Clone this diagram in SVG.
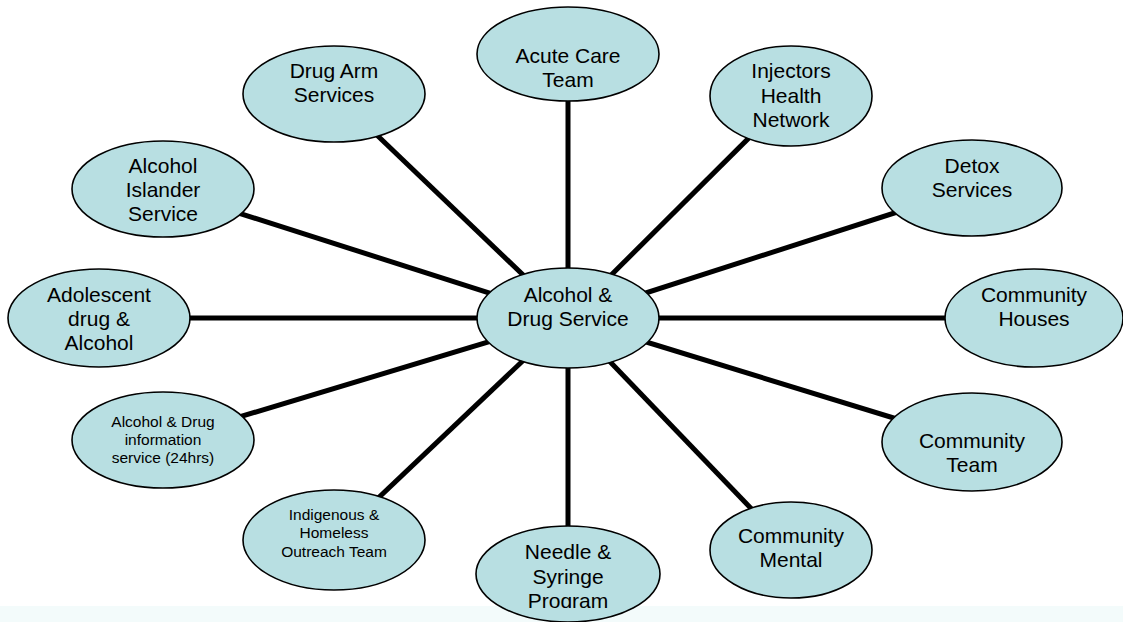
<svg xmlns="http://www.w3.org/2000/svg" width="1123" height="622" viewBox="0 0 1123 622">
<style>
.n{fill:#b8dfe2;stroke:#000;stroke-width:1.6}
.t{font-family:"Liberation Sans",Arial,sans-serif;font-size:21px;fill:#000;text-anchor:middle}
.s{font-family:"Liberation Sans",Arial,sans-serif;font-size:15.5px;fill:#000;text-anchor:middle}
.c{stroke:#000;stroke-width:5;fill:none}
</style>
<defs><clipPath id="clipN"><rect x="0" y="0" width="1123" height="608"/></clipPath></defs>
<rect x="0" y="0" width="1123" height="622" fill="#fff"/>
<rect x="0" y="606" width="1123" height="16" fill="#f3fbfb"/>
<g id="connectors">
<line class="c" x1="568" y1="318" x2="568" y2="54"/>
<line class="c" x1="568" y1="318" x2="791" y2="96"/>
<line class="c" x1="568" y1="318" x2="972" y2="188"/>
<line class="c" x1="568" y1="318" x2="1034" y2="318"/>
<line class="c" x1="568" y1="318" x2="972" y2="442"/>
<line class="c" x1="568" y1="318" x2="791" y2="550"/>
<line class="c" x1="568" y1="318" x2="568" y2="574"/>
<line class="c" x1="568" y1="318" x2="334" y2="540"/>
<line class="c" x1="568" y1="318" x2="163" y2="440"/>
<line class="c" x1="568" y1="318" x2="99" y2="318"/>
<line class="c" x1="568" y1="318" x2="163" y2="189"/>
<line class="c" x1="568" y1="318" x2="334" y2="94"/>
</g>
<g id="acute"><ellipse class="n" cx="568" cy="54" rx="91" ry="47"/><text class="t" x="568" y="63">Acute Care</text><text class="t" x="568" y="87">Team</text></g>
<g id="injectors"><ellipse class="n" cx="791" cy="96" rx="81" ry="50"/><text class="t" x="791" y="78">Injectors</text><text class="t" x="791" y="103">Health</text><text class="t" x="791" y="127">Network</text></g>
<g id="detox"><ellipse class="n" cx="972" cy="188" rx="90" ry="48"/><text class="t" x="972" y="173">Detox</text><text class="t" x="972" y="197">Services</text></g>
<g id="houses"><ellipse class="n" cx="1034" cy="318" rx="89" ry="49"/><text class="t" x="1034" y="302">Community</text><text class="t" x="1034" y="326">Houses</text></g>
<g id="team"><ellipse class="n" cx="972" cy="442" rx="90" ry="49"/><text class="t" x="972" y="448">Community</text><text class="t" x="972" y="472">Team</text></g>
<g id="mental"><ellipse class="n" cx="791" cy="550" rx="81" ry="48"/><text class="t" x="791" y="543">Community</text><text class="t" x="791" y="567">Mental</text></g>
<g id="needle"><ellipse class="n" cx="568" cy="574" rx="92" ry="48"/><g clip-path="url(#clipN)"><text class="t" x="568" y="559">Needle &amp;</text><text class="t" x="568" y="584">Syringe</text><text class="t" x="568" y="608">Program</text></g></g>
<g id="indigenous"><ellipse class="n" cx="334" cy="540" rx="91" ry="50"/><text class="s" x="334" y="520">Indigenous &amp;</text><text class="s" x="334" y="538">Homeless</text><text class="s" x="334" y="557">Outreach Team</text></g>
<g id="info"><ellipse class="n" cx="163" cy="440" rx="91" ry="48"/><text class="s" x="163" y="427">Alcohol &amp; Drug</text><text class="s" x="163" y="445">information</text><text class="s" x="163" y="463">service (24hrs)</text></g>
<g id="adolescent"><ellipse class="n" cx="99" cy="318" rx="91" ry="49"/><text class="t" x="99" y="302">Adolescent</text><text class="t" x="99" y="326">drug &amp;</text><text class="t" x="99" y="350">Alcohol</text></g>
<g id="islander"><ellipse class="n" cx="163" cy="189" rx="91" ry="48"/><text class="t" x="163" y="173">Alcohol</text><text class="t" x="163" y="197">Islander</text><text class="t" x="163" y="221">Service</text></g>
<g id="drugarm"><ellipse class="n" cx="334" cy="94" rx="91" ry="48"/><text class="t" x="334" y="78">Drug Arm</text><text class="t" x="334" y="102">Services</text></g>
<g id="center"><ellipse class="n" cx="568" cy="318" rx="91" ry="50"/><text class="t" x="568" y="302">Alcohol &amp;</text><text class="t" x="568" y="326">Drug Service</text></g>
</svg>
